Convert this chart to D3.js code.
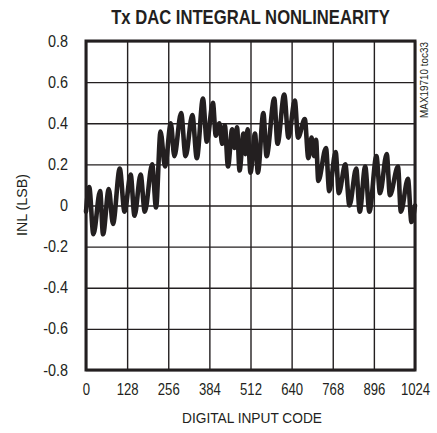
<!DOCTYPE html>
<html><head><meta charset="utf-8">
<script src="https://cdn.jsdelivr.net/npm/d3@7"></script>
<style>
html,body{margin:0;padding:0;background:#fff;}
svg{display:block;}
text{font-family:"Liberation Sans Narrow","Arial Narrow","Liberation Sans",Arial,sans-serif;fill:#231f20;}
</style></head>
<body><svg id="c" width="437" height="433"></svg>
<script>
const xTicks = [0,128,256,384,512,640,768,896,1024];
const yTicks = [-0.8,-0.6,-0.4,-0.2,0,0.2,0.4,0.6,0.8];
const yTickLabels = ["-0.8","-0.6","-0.4","-0.2","0","0.2","0.4","0.6","0.8"];
const codes = [0,10,23,44,53,71,84,105,120,139,151,170,183,206,218,232,246,264,275,296,310,331,345,364,376,395,404,415,424,432,442,455,462,470,478,490,496,503,512,526,535,552,562,586,596,617,630,650,660,681,692,702,710,716,723,747,757,777,787,807,820,841,852,869,882,904,915,936,946,971,980,1002,1013,1024];
const inl   = [-0.03,0.09,-0.14,0.07,-0.14,0.08,-0.09,0.18,-0.03,0.15,-0.05,0.15,-0.03,0.20,-0.01,0.36,0.19,0.40,0.24,0.45,0.24,0.44,0.23,0.52,0.31,0.50,0.34,0.40,0.30,0.39,0.19,0.37,0.28,0.38,0.17,0.35,0.25,0.37,0.16,0.35,0.16,0.45,0.24,0.52,0.30,0.54,0.33,0.51,0.33,0.42,0.23,0.33,0.24,0.32,0.12,0.28,0.07,0.26,0.06,0.20,0.00,0.18,-0.03,0.19,-0.03,0.24,0.06,0.25,0.05,0.19,-0.03,0.13,-0.08,0.00];
const title = "Tx DAC INTEGRAL NONLINEARITY";
const xLabel = "DIGITAL INPUT CODE";
const yLabel = "INL (LSB)";
const sideNote = "MAX19710 toc33";

const svg = d3.select("#c");
const L=86, R=415, T=41, B=370;
const x = d3.scaleLinear().domain([0,1024]).range([L,R]);
const y = d3.scaleLinear().domain([-0.8,0.8]).range([B,T]);

// grid
const gx = svg.append("g").attr("transform",`translate(0,${B})`)
  .call(d3.axisBottom(x).tickValues(xTicks).tickSize(-(B-T)).tickFormat(""));
gx.select(".domain").remove();
gx.selectAll("line").attr("stroke","#231f20").attr("stroke-width",1.4);
const gy = svg.append("g").attr("transform",`translate(${L},0)`)
  .call(d3.axisLeft(y).tickValues(yTicks).tickSize(-(R-L)).tickFormat(""));
gy.select(".domain").remove();
gy.selectAll("line").attr("stroke","#231f20").attr("stroke-width",1.4);

// tick labels (horizontally condensed)
const sxX = 0.82, sxY = 0.9;
const ax = svg.append("g").attr("transform",`translate(0,${B})`)
  .call(d3.axisBottom(x).tickValues(xTicks).tickSize(0).tickPadding(14).tickFormat(d=>String(d)));
ax.select(".domain").remove();
ax.selectAll("text").attr("font-size",16).attr("font-family",null).attr("fill","#333")
  .attr("transform",`scale(${sxX},1)`);
const ay = svg.append("g").attr("transform",`translate(${L},0)`)
  .call(d3.axisLeft(y).tickValues(yTicks).tickSize(0).tickPadding(18).tickFormat((d,i)=>yTickLabels[i]));
ay.select(".domain").remove();
ay.selectAll("text").attr("font-size",16).attr("font-family",null).attr("fill","#333")
  .attr("x",-18/sxY).attr("transform",`scale(${sxY},1)`);

// frame
svg.append("rect").attr("x",L).attr("y",T).attr("width",R-L).attr("height",B-T)
  .attr("fill","none").attr("stroke","#231f20").attr("stroke-width",3);

// data line
const pts = codes.map((c,i)=>[c,inl[i]]);
svg.append("path").datum(pts)
  .attr("fill","none").attr("stroke","#231f20").attr("stroke-width",4.6)
  .attr("stroke-linejoin","round").attr("stroke-linecap","round")
  .attr("d", d3.line().x(d=>x(d[0])).y(d=>y(d[1])).curve(d3.curveMonotoneX));

// texts fitted to a target width by horizontal scaling
function fitted(txt, cx, cy, rot, size, weight, fill, width){
  const g = svg.append("g").attr("transform",`translate(${cx},${cy}) rotate(${rot})`);
  const t = g.append("text").attr("text-anchor","middle").attr("font-size",size)
    .attr("font-weight",weight).attr("fill",fill).text(txt);
  const w = t.node().getComputedTextLength();
  t.attr("transform",`scale(${width/w},1)`);
}
fitted(title, 250.5, 24, 0, 20, "bold", "#231f20", 279);
fitted(xLabel, 252, 423, 0, 15.5, "normal", "#333", 140);
fitted(yLabel, 27, 205, -90, 15.5, "normal", "#333", 62);
fitted(sideNote, 428, 80, -90, 10, "normal", "#444", 76);
</script></body></html>
